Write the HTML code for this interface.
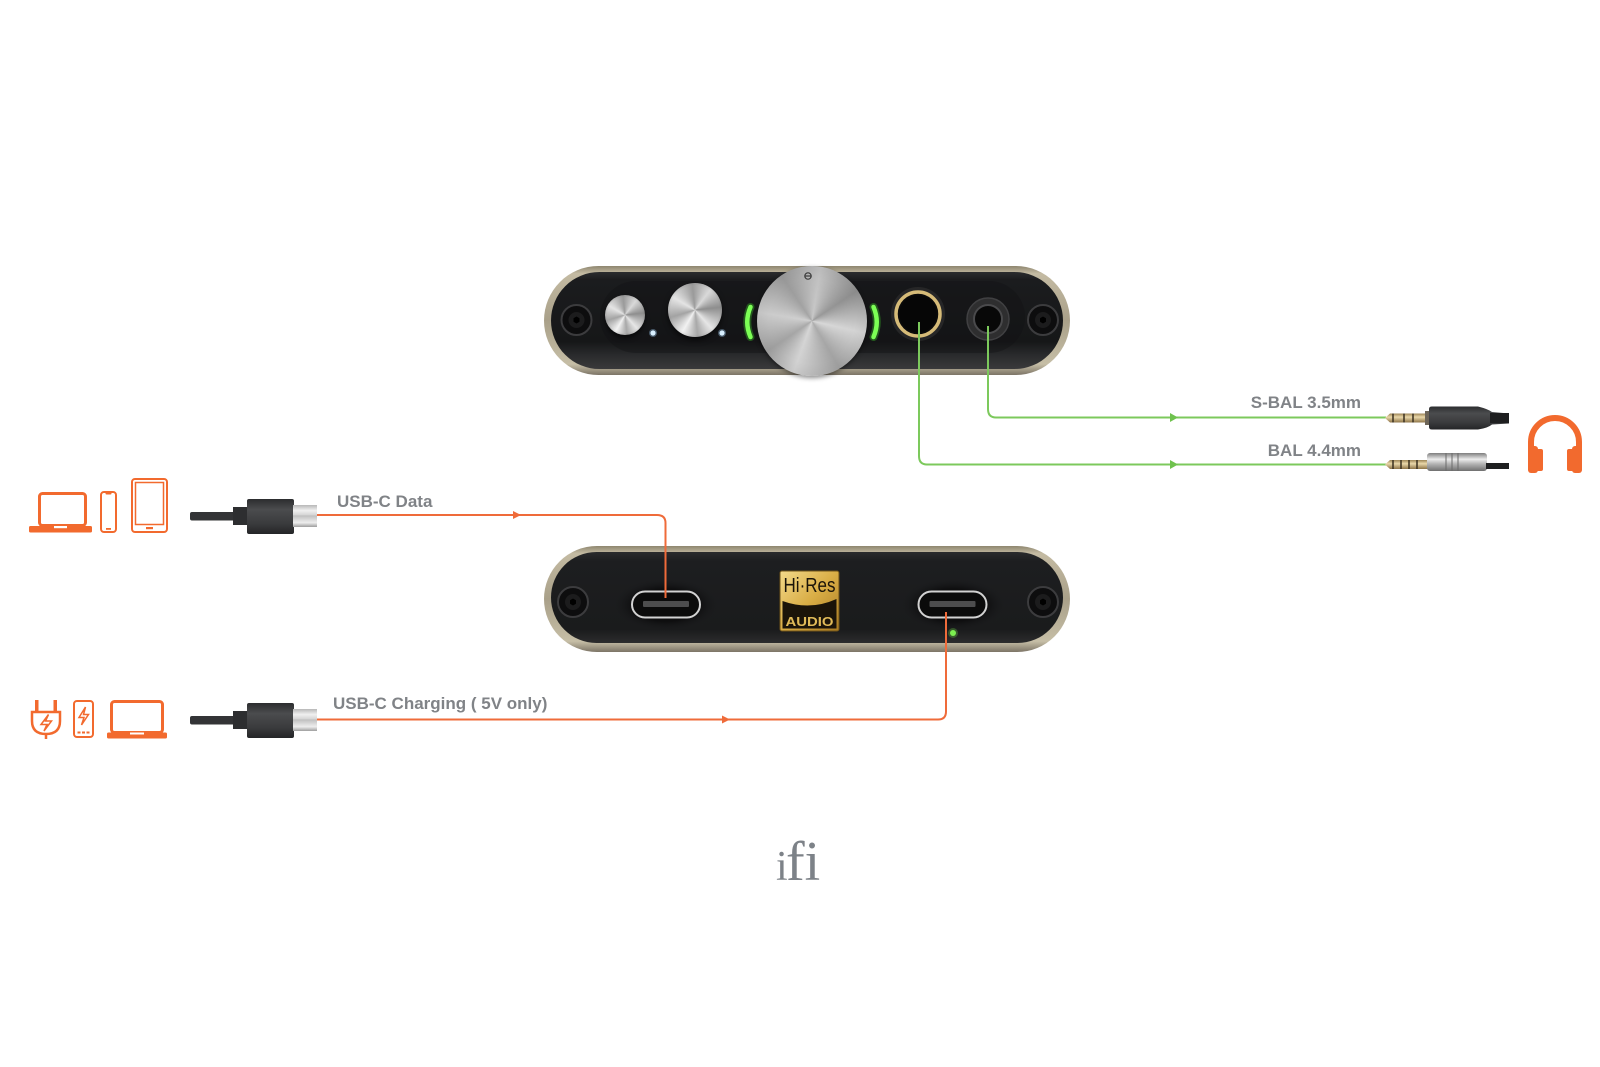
<!DOCTYPE html>
<html><head><meta charset="utf-8">
<style>
html,body{margin:0;padding:0;background:#fff;}
#wrap{position:relative;width:1600px;height:1067px;overflow:hidden;background:#fff;}
svg{position:absolute;left:0;top:0;}
.knob{position:absolute;border-radius:50%;}
</style></head>
<body><div id="wrap">
<svg width="1600" height="1067" viewBox="0 0 1600 1067" xmlns="http://www.w3.org/2000/svg">
<defs>
<linearGradient id="rim" x1="0" y1="0" x2="0" y2="1">
<stop offset="0" stop-color="#8e866f"/><stop offset="0.07" stop-color="#c4bba3"/>
<stop offset="0.5" stop-color="#a9a089"/><stop offset="0.9" stop-color="#c6bea6"/>
<stop offset="1" stop-color="#7c7466"/></linearGradient>
<linearGradient id="panel" x1="0" y1="0" x2="0" y2="1">
<stop offset="0" stop-color="#2b2c2e"/><stop offset="0.08" stop-color="#1b1c1e"/>
<stop offset="0.72" stop-color="#161718"/><stop offset="0.86" stop-color="#2a2b2d"/>
<stop offset="1" stop-color="#3a3a3b"/></linearGradient>
<linearGradient id="panel2" x1="0" y1="0" x2="0" y2="1">
<stop offset="0" stop-color="#2a2b2d"/><stop offset="0.1" stop-color="#1d1e20"/>
<stop offset="0.85" stop-color="#1a1b1c"/><stop offset="1" stop-color="#2c2c2d"/></linearGradient>
<linearGradient id="gold" x1="0" y1="0" x2="1" y2="1">
<stop offset="0" stop-color="#f3d98a"/><stop offset="0.5" stop-color="#d9ad45"/>
<stop offset="1" stop-color="#a87a22"/></linearGradient>
<radialGradient id="recess" cx="0.5" cy="0.5" r="0.5">
<stop offset="0.6" stop-color="#0e0e0f"/><stop offset="1" stop-color="#1c1d1f" stop-opacity="0"/></radialGradient>
</defs>

<!-- TOP DEVICE -->
<rect x="544" y="266" width="526" height="109" rx="54.5" fill="url(#rim)"/>
<rect x="551" y="272" width="512" height="97" rx="48.5" fill="url(#panel)"/>
<rect x="600" y="281" width="425" height="72" rx="36" fill="#111213" opacity="0.4"/>
<!-- screws -->
<circle cx="576.5" cy="320" r="15" fill="#0d0d0e" stroke="#3c3c3e" stroke-width="2"/>
<circle cx="576.5" cy="320" r="8" fill="#1c1c1d"/>
<polygon points="576.5,316.5 579.5,318.2 579.5,321.8 576.5,323.5 573.5,321.8 573.5,318.2" fill="#000"/>
<circle cx="1043" cy="320" r="15" fill="#0d0d0e" stroke="#3c3c3e" stroke-width="2"/>
<circle cx="1043" cy="320" r="8" fill="#1c1c1d"/>
<polygon points="1043,316.5 1046,318.2 1046,321.8 1043,323.5 1040,321.8 1040,318.2" fill="#000"/>
<!-- blue dots -->
<circle cx="653" cy="333" r="4" fill="#a6d8ff" opacity="0.35"/>
<circle cx="653" cy="333" r="2.6" fill="#d9f0ff"/>
<circle cx="722" cy="333" r="4" fill="#a6d8ff" opacity="0.35"/>
<circle cx="722" cy="333" r="2.6" fill="#d9f0ff"/>
<!-- green arcs -->
<path d="M750.5 307 Q744 322 750.5 337" stroke="#3fd82a" stroke-width="8" fill="none" stroke-linecap="round" opacity="0.35"/>
<path d="M750.5 307 Q744 322 750.5 337" stroke="#7cff55" stroke-width="4.5" fill="none" stroke-linecap="round"/>
<path d="M873.5 307 Q880 322 873.5 337" stroke="#3fd82a" stroke-width="8" fill="none" stroke-linecap="round" opacity="0.35"/>
<path d="M873.5 307 Q880 322 873.5 337" stroke="#7cff55" stroke-width="4.5" fill="none" stroke-linecap="round"/>
<!-- jacks -->
<circle cx="918" cy="314" r="27" fill="#262627"/>
<circle cx="918" cy="314" r="22" fill="#0a0a0a" stroke="#d6bb78" stroke-width="3.5"/>
<circle cx="918" cy="314" r="18.5" fill="#060606"/>
<circle cx="988" cy="319" r="21" fill="#2e2e2f" stroke="#404042" stroke-width="1.5"/>
<circle cx="988" cy="319" r="14" fill="#080808" stroke="#4a4a4c" stroke-width="2"/>

<!-- BOTTOM DEVICE -->
<rect x="544" y="546" width="526" height="106" rx="53" fill="url(#rim)"/>
<rect x="551" y="552" width="512" height="91" rx="45.5" fill="url(#panel2)"/>
<circle cx="573" cy="602" r="15" fill="#0d0d0e" stroke="#3c3c3e" stroke-width="2"/>
<circle cx="573" cy="602" r="8" fill="#1c1c1d"/>
<polygon points="573,598.5 576,600.2 576,603.8 573,605.5 570,603.8 570,600.2" fill="#000"/>
<circle cx="1043" cy="602" r="15" fill="#0d0d0e" stroke="#3c3c3e" stroke-width="2"/>
<circle cx="1043" cy="602" r="8" fill="#1c1c1d"/>
<polygon points="1043,598.5 1046,600.2 1046,603.8 1043,605.5 1040,603.8 1040,600.2" fill="#000"/>
<!-- ports -->
<rect x="612" y="578" width="108" height="54" rx="27" fill="url(#recess)"/>
<rect x="899" y="578" width="108" height="54" rx="27" fill="url(#recess)"/>
<rect x="632" y="591.5" width="68" height="26" rx="13" fill="#0b0b0b" stroke="#d2d2d2" stroke-width="2"/>
<rect x="643" y="601" width="46" height="6" rx="1" fill="#4d4d4e"/>
<rect x="918.5" y="591.5" width="68" height="26" rx="13" fill="#0b0b0b" stroke="#d2d2d2" stroke-width="2"/>
<rect x="929.5" y="601" width="46" height="6" rx="1" fill="#4d4d4e"/>
<!-- LED -->
<circle cx="953" cy="633" r="5" fill="#6fe04a" opacity="0.3"/>
<circle cx="953" cy="633" r="3" fill="#7cf050"/>
<!-- Hi-Res logo -->
<rect x="780" y="571" width="59" height="60" rx="2" fill="url(#gold)" stroke="#6e5218" stroke-width="1"/>
<path d="M782.5 601 Q810 611 836.5 599 V628.5 H782.5 Z" fill="#1b1409"/>
<text x="809.5" y="592" font-family="Liberation Sans Narrow, Liberation Sans, sans-serif" font-size="20" fill="#1b1409" text-anchor="middle" textLength="52" lengthAdjust="spacingAndGlyphs">Hi·Res</text>
<text x="809.5" y="626" font-family="Liberation Sans, sans-serif" font-weight="bold" font-size="13" fill="#e0ba58" text-anchor="middle" textLength="48" lengthAdjust="spacingAndGlyphs">AUDIO</text>
</svg>

<!-- knobs -->
<div class="knob" style="left:605px;top:295px;width:40px;height:40px;box-shadow:0 3px 5px rgba(0,0,0,.6);background:radial-gradient(circle,rgba(0,0,0,0) 62%,rgba(0,0,0,.35) 100%),conic-gradient(from 210deg,#f2f2f2,#a3a3a3 12%,#e4e4e4 25%,#9a9a9a 40%,#d9d9d9 52%,#8e8e8e 65%,#e6e6e6 80%,#a8a8a8 90%,#f2f2f2);"></div>
<div class="knob" style="left:667.5px;top:283px;width:54px;height:54px;box-shadow:0 3px 6px rgba(0,0,0,.6);background:radial-gradient(circle,rgba(0,0,0,0) 64%,rgba(0,0,0,.35) 100%),conic-gradient(from 210deg,#f2f2f2,#a3a3a3 12%,#e4e4e4 25%,#9a9a9a 40%,#d9d9d9 52%,#8e8e8e 65%,#e6e6e6 80%,#a8a8a8 90%,#f2f2f2);"></div>
<div class="knob" style="left:757px;top:265.5px;width:110px;height:110px;box-shadow:0 2px 5px rgba(0,0,0,.45);background:radial-gradient(circle,rgba(255,255,255,.12) 0%,rgba(0,0,0,0) 55%,rgba(0,0,0,.12) 100%),conic-gradient(from 200deg,#d2d2d2,#a0a0a0 10%,#cbcbcb 22%,#9b9b9b 35%,#c2c2c2 47%,#8f8f8f 60%,#d4d4d4 73%,#a2a2a2 86%,#d2d2d2);"></div>

<svg width="1600" height="1067" viewBox="0 0 1600 1067" xmlns="http://www.w3.org/2000/svg">
<defs>
<linearGradient id="silver2" x1="0" y1="0" x2="0" y2="1">
<stop offset="0" stop-color="#b8b8b8"/><stop offset="0.25" stop-color="#f0f0f0"/>
<stop offset="0.55" stop-color="#c9c9c9"/><stop offset="0.8" stop-color="#eeeeee"/>
<stop offset="1" stop-color="#9e9e9e"/></linearGradient>
<linearGradient id="body2" x1="0" y1="0" x2="0" y2="1">
<stop offset="0" stop-color="#2c2d2f"/><stop offset="0.3" stop-color="#4b4c4e"/>
<stop offset="0.7" stop-color="#3a3b3d"/><stop offset="1" stop-color="#242527"/></linearGradient>
<linearGradient id="tipgold2" x1="0" y1="0" x2="0" y2="1">
<stop offset="0" stop-color="#9c8455"/><stop offset="0.4" stop-color="#ead8aa"/>
<stop offset="1" stop-color="#8e7448"/></linearGradient>
<linearGradient id="plug442" x1="0" y1="0" x2="0" y2="1">
<stop offset="0" stop-color="#7d7d7d"/><stop offset="0.35" stop-color="#ececec"/>
<stop offset="0.6" stop-color="#b5b5b5"/><stop offset="1" stop-color="#6f6f6f"/></linearGradient>
</defs>
<!-- knob marker -->
<circle cx="808" cy="276" r="3.2" fill="none" stroke="#3a3a3a" stroke-width="1.2"/>
<line x1="805" y1="276" x2="811" y2="276" stroke="#3a3a3a" stroke-width="1.2"/>

<!-- green connectors -->
<path d="M919 322 V456 Q919 464.5 927 464.5 H1386" stroke="#7cc95c" stroke-width="2" fill="none"/>
<path d="M988 326 V409 Q988 417.5 996 417.5 H1386" stroke="#7cc95c" stroke-width="2" fill="none"/>
<polygon points="1170,413 1178,417.5 1170,422" fill="#6fc24e"/>
<polygon points="1170,460 1178,464.5 1170,469" fill="#6fc24e"/>

<!-- orange connectors -->
<path d="M316 515 H657 Q665.5 515 665.5 523 V598" stroke="#ef6b3a" stroke-width="2" fill="none"/>
<path d="M316 719.5 H938 Q946 719.5 946 711.5 V612" stroke="#ef6b3a" stroke-width="2" fill="none"/>
<polygon points="513,511 521,515 513,519" fill="#ef6b3a"/>
<polygon points="722,715.5 730,719.5 722,723.5" fill="#ef6b3a"/>

<!-- labels -->
<g font-family="Liberation Sans, sans-serif" font-weight="bold" font-size="17" fill="#808387">
<text x="337" y="507">USB-C Data</text>
<text x="333" y="709">USB-C Charging ( 5V only)</text>
<text x="1361" y="408" text-anchor="end">S-BAL 3.5mm</text>
<text x="1361" y="456" text-anchor="end">BAL 4.4mm</text>
</g>

<!-- left USB-C cables -->
<g>
<rect x="190" y="512" width="45" height="8.5" rx="2" fill="#333436"/>
<rect x="233" y="507" width="15" height="18" fill="#2d2e30"/>
<rect x="247" y="499" width="47" height="35" rx="2" fill="url(#body2)"/>
<rect x="293" y="505" width="24" height="22" fill="url(#silver2)"/>
<line x1="293" y1="516" x2="317" y2="516" stroke="#bdbdbd" stroke-width="1"/>
</g>
<g transform="translate(0,204)">
<rect x="190" y="512" width="45" height="8.5" rx="2" fill="#333436"/>
<rect x="233" y="507" width="15" height="18" fill="#2d2e30"/>
<rect x="247" y="499" width="47" height="35" rx="2" fill="url(#body2)"/>
<rect x="293" y="505" width="24" height="22" fill="url(#silver2)"/>
<line x1="293" y1="516" x2="317" y2="516" stroke="#bdbdbd" stroke-width="1"/>
</g>

<!-- right plugs -->
<path d="M1385 418 L1390 413.5 H1428 V422.5 H1390 Z" fill="url(#tipgold2)"/>
<line x1="1393" y1="413.5" x2="1393" y2="422.5" stroke="#3a3020" stroke-width="1.5"/>
<line x1="1404" y1="413.5" x2="1404" y2="422.5" stroke="#3a3020" stroke-width="1.5"/>
<line x1="1413" y1="413.5" x2="1413" y2="422.5" stroke="#3a3020" stroke-width="1.5"/>
<rect x="1425" y="411" width="5" height="14" fill="#6d6558"/>
<path d="M1429 409 Q1429 406.5 1432 406.5 H1478 Q1488 409 1492 412 L1509 413.5 V423.5 L1492 424.5 Q1488 428 1478 429.5 H1432 Q1429 429.5 1429 427 Z" fill="url(#body2)"/>
<rect x="1490" y="413" width="19" height="10" fill="#1e1f20"/>
<path d="M1385 464.5 L1390 460 H1428 V469 H1390 Z" fill="url(#tipgold2)"/>
<line x1="1393" y1="460" x2="1393" y2="469" stroke="#3a3020" stroke-width="1.5"/>
<line x1="1401" y1="460" x2="1401" y2="469" stroke="#3a3020" stroke-width="1.5"/>
<line x1="1409" y1="460" x2="1409" y2="469" stroke="#3a3020" stroke-width="1.5"/>
<line x1="1417" y1="460" x2="1417" y2="469" stroke="#3a3020" stroke-width="1.5"/>
<rect x="1427" y="453" width="60" height="18" rx="3" fill="url(#plug442)"/>
<line x1="1446" y1="453" x2="1446" y2="471" stroke="#6a6a6a" stroke-width="1"/>
<line x1="1452" y1="453" x2="1452" y2="471" stroke="#6a6a6a" stroke-width="1"/>
<line x1="1458" y1="453" x2="1458" y2="471" stroke="#6a6a6a" stroke-width="1"/>
<rect x="1486" y="463" width="23" height="6" fill="#1e1f20"/>

<!-- headphones -->
<g fill="#f26a2e" stroke="none">
<path d="M1531 454 V442 A24 24 0 0 1 1579 442 V454" fill="none" stroke="#f26a2e" stroke-width="6"/>
<rect x="1528" y="446" width="10" height="27" rx="3"/>
<rect x="1536" y="449" width="7" height="22" rx="2"/>
<rect x="1572" y="446" width="10" height="27" rx="3"/>
<rect x="1567" y="449" width="7" height="22" rx="2"/>
</g>

<!-- left device icons: data -->
<g stroke="#f26a2e" fill="none">
<rect x="39.5" y="493.5" width="46" height="32" rx="3" stroke-width="3"/>
<rect x="101" y="492" width="15" height="40" rx="3" stroke-width="2"/>
<rect x="132" y="479" width="35" height="53" rx="3" stroke-width="2"/>
<rect x="135.5" y="482.5" width="28" height="42" stroke-width="1.5"/>
</g>
<g fill="#f26a2e">
<rect x="29" y="526" width="63" height="6.5" rx="1.5"/>
<rect x="105.5" y="492" width="6" height="2.5" rx="1"/>
<rect x="106" y="528" width="5" height="1.8"/>
<rect x="146" y="527" width="7" height="2.2"/>
</g>
<rect x="54" y="526" width="13" height="2.2" fill="#fff"/>

<!-- left device icons: charging -->
<g stroke="#f26a2e" fill="none" stroke-width="2.5">
<path d="M32 712 H60 V721 Q60 734 46 734 Q32 734 32 721 Z"/>
<path d="M46 734 V739"/>
<path d="M48.5 714.5 L41 724.5 H47 L44 731 L51.5 721 H45.5 Z" stroke-width="1.5"/>
<rect x="74" y="701" width="19" height="36" rx="3" stroke-width="2"/>
<path d="M85.5 707 L79 717.5 H84 L81.5 725 L88.5 714.5 H83.5 Z" stroke-width="1.5"/>
<rect x="111.5" y="701.5" width="51" height="31" rx="3" stroke-width="3"/>
</g>
<g fill="#f26a2e">
<rect x="35" y="700" width="3.5" height="12"/>
<rect x="53.5" y="700" width="3.5" height="12"/>
<rect x="77.5" y="731.5" width="3" height="2"/>
<rect x="82" y="731.5" width="3" height="2"/>
<rect x="86.5" y="731.5" width="3" height="2"/>
<rect x="107" y="732.5" width="60" height="6" rx="1.5"/>
</g>
<rect x="130" y="732.5" width="14" height="2" fill="#fff"/>

<!-- ifi logo -->
<text x="776" y="880" font-family="Liberation Serif, serif" font-size="42" fill="#7d8288">i</text>
<text x="786" y="880" font-family="Liberation Serif, serif" font-size="56" fill="#7d8288">fi</text>
</svg>
</div></body></html>
